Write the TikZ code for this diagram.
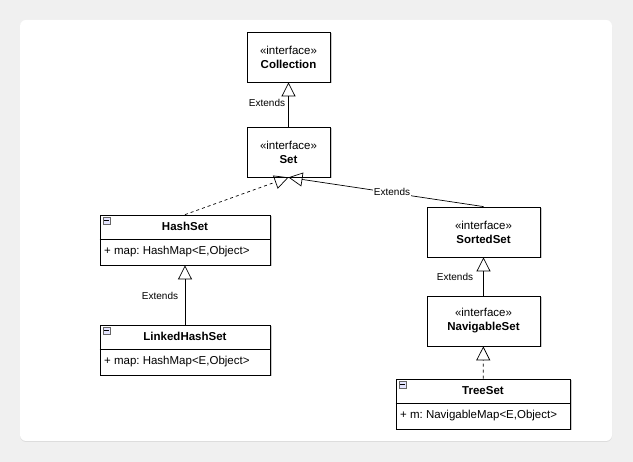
\documentclass[tikz,border=0pt]{standalone}
\usepackage{fontspec}
\setmainfont{Liberation Sans}
\usetikzlibrary{arrows.meta,shadows,calc}
\frenchspacing
\begin{document}
\begin{tikzpicture}[x=1pt,y=-1pt,font=\fontsize{11.5}{14}\selectfont,
 box/.style={draw,fill=white,line width=0.8pt,drop shadow={shadow xshift=1.5pt,shadow yshift=-1.5pt,fill=black!35,opacity=0.6}},
 ext/.style={-{Triangle[open,width=14pt,length=14pt]},line width=0.7pt},
 real/.style={ext,dashed},
 lab/.style={font=\fontsize{10}{12}\selectfont,fill=white,inner sep=1pt}]
\useasboundingbox (0,0) rectangle (633,462);
\fill[black!6] (0,0) rectangle (633,462);
\fill[white,rounded corners=6pt,drop shadow={shadow xshift=0pt,shadow yshift=-1pt,fill=black!20}] (20,20) rectangle (612,441);
% interfaces
\node[box,minimum width=83,minimum height=50,align=center] (coll) at (288.5,57) {«interface»\\\textbf{Collection}};
\node[box,minimum width=83,minimum height=50,align=center] (set) at (288.5,152) {«interface»\\\textbf{Set}};
\node[box,minimum width=113,minimum height=50,align=center] (sorted) at (483.5,232) {«interface»\\\textbf{SortedSet}};
\node[box,minimum width=113,minimum height=50,align=center] (nav) at (483.5,321) {«interface»\\\textbf{NavigableSet}};
% classes
\newcommand{\umlclass}[6]{%
 \node[box,minimum width=#4,minimum height=50] (#1) at (#2,#3) {};
 \draw[line width=0.6pt] (#1.west) ++(0,-1) -- ($(#1.east)+(0,-1)$);
 \node[font=\fontsize{11.5}{14}\selectfont\bfseries] (#1t) at ($(#1.north)+(0,12)$) {#5};
 \node[anchor=west] (#1a) at ($(#1.west)+(1,12)$) {#6};
 \node[draw=black!60,fill=blue!10,minimum size=7,inner sep=0,line width=0.4pt] (#1m) at ($(#1.north west)+(7,6)$) {};
 \draw[line width=0.5pt] ($(#1m.west)+(1.5,0)$) -- ($(#1m.east)+(-1.5,0)$);}
\umlclass{hash}{185}{240}{170}{HashSet}{+ map: HashMap<E,Object>}
\umlclass{linked}{185}{350}{170}{LinkedHashSet}{+ map: HashMap<E,Object>}
\umlclass{tree}{483}{404}{174}{TreeSet}{+ m: NavigableMap<E,Object>}
% connectors
\draw[ext] (set) -- (coll);
\node[lab] (l1) at (267,103) {Extends};
\draw[real] (hash.north) -- (set.south);
\draw[ext] (sorted.north) -- (set.south);
\node[lab] (l2) at (392,192) {Extends};
\draw[ext] (linked) -- (hash);
\node[lab] (l3) at (160,296) {Extends};
\draw[ext] (nav) -- (sorted);
\node[lab] (l4) at (455,277) {Extends};
\draw[real] (tree) -- (nav);
\end{tikzpicture}
\end{document}
